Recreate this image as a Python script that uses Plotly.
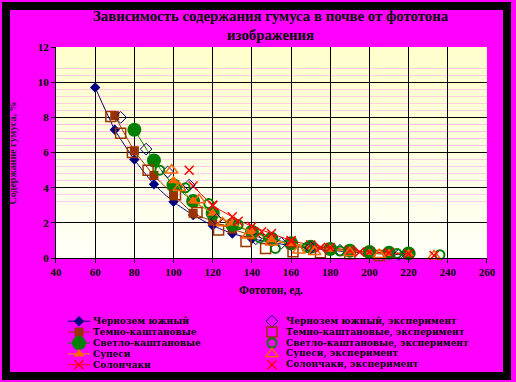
import plotly.graph_objects as go

# ---------------- data ----------------
x_ticks = [40, 60, 80, 100, 120, 140, 160, 180, 200, 220, 240, 260]
y_ticks = [0, 2, 4, 6, 8, 10, 12]

chern_x = [60, 70, 80, 90, 100, 110, 120, 130, 140, 150, 160, 170, 180, 190, 200, 210, 220]
chern_y = [9.7, 7.3, 5.6, 4.2, 3.2, 2.45, 1.85, 1.4, 1.1, 0.9, 0.7, 0.55, 0.45, 0.35, 0.28, 0.22, 0.18]

dark_x = [70, 80, 90, 100, 110, 120, 130, 140, 150, 160, 170, 180, 190, 200, 210, 220]
dark_y = [8.1, 6.1, 4.7, 3.6, 2.55, 2.1, 1.65, 1.3, 1.0, 0.8, 0.6, 0.5, 0.4, 0.3, 0.25, 0.2]

light_x = [80, 90, 100, 110, 120, 130, 140, 150, 160, 170, 180, 190, 200, 210, 220]
light_y = [7.3, 5.55, 4.15, 3.25, 2.55, 1.9, 1.5, 1.1, 0.85, 0.65, 0.52, 0.42, 0.35, 0.3, 0.27]

sup_x = [100, 110, 120, 130, 140, 150, 160, 170, 180, 190, 200, 210, 220]
sup_y = [4.4, 3.25, 2.55, 2.0, 1.5, 1.05, 0.83, 0.64, 0.5, 0.4, 0.32, 0.27, 0.25]

sol_x = [110, 120, 130, 140, 150, 160, 170, 180, 190, 200, 210, 220]
sol_y = [4.1, 3.0, 2.35, 1.8, 1.4, 1.0, 0.75, 0.6, 0.45, 0.35, 0.3, 0.25]

chern_e_x = [73, 86, 97, 108, 122, 142, 155, 170, 185, 200, 215]
chern_e_y = [8.0, 6.2, 4.9, 4.15, 2.2, 1.1, 0.85, 0.6, 0.45, 0.3, 0.2]

dark_e_x = [68, 73, 79, 87, 101, 112, 123, 137, 147, 161, 175, 190, 205]
dark_e_y = [8.05, 7.1, 6.0, 5.0, 3.6, 2.6, 1.6, 0.95, 0.55, 0.36, 0.3, 0.25, 0.15]

light_e_x = [93, 106, 118, 133, 144, 152, 168, 185, 200, 214, 236]
light_e_y = [5.0, 4.0, 3.1, 1.9, 1.15, 0.55, 0.6, 0.4, 0.3, 0.27, 0.2]

sup_e_x = [99, 103, 113, 125, 138, 150, 164, 172, 190, 205, 233]
sup_e_y = [5.0, 4.0, 3.3, 2.0, 1.3, 0.9, 0.45, 0.36, 0.3, 0.2, 0.12]

sol_e_x = [108, 120, 133, 145, 160, 175, 195, 233]
sol_e_y = [5.0, 3.0, 2.1, 1.5, 0.95, 0.6, 0.35, 0.15]

names = ["Чернозем южный", "Темно-каштановые", "Светло-каштановые", "Супеси", "Солончаки"]
exp_names = [n + ", эксперимент" for n in names]

title_lines = ["Зависимость содержания гумуса в почве от фототона", "изображения"]
x_title = "Фототон, ед."
y_title = "Содержание гумуса, %"

# ---------------- layout geometry ----------------
W, H = 516, 382
# target positions (picture pixels) and compensation for the photo framing
OFF, SX, SY = 6.0, 0.971, 0.968


def fx(s):
    return ((s - OFF) / SX) / W


def fy(s):
    return 1 - ((s - OFF) / SY) / H


def px_x(s):
    return (s - OFF) / SX


def px_y(s):
    return (s - OFF) / SY


PL, PR, PT, PB = 56, 487, 47, 258
FONT = "Liberation Serif"
LEG_FONT = "DejaVu Serif"

colors = ["#000080", "#993300", "#008000", "#FF6600", "#FF0000"]
line_colors = ["#000080", "#993300", "#008000", "#FF9900", "#FF0000"]
symbols = ["diamond", "square", "circle", "triangle-up", "x-thin"]
sizes = [8, 9, 14, 10, 9]
exp_symbols = ["diamond-open", "square-open", "circle-open", "triangle-up-open", "x-thin"]
exp_sizes = [9, 10, 9, 11, 9]
exp_widths = [1, 1.5, 2, 1.5, 1.5]

series = [(chern_x, chern_y), (dark_x, dark_y), (light_x, light_y), (sup_x, sup_y), (sol_x, sol_y)]
exp_series = [(chern_e_x, chern_e_y), (dark_e_x, dark_e_y), (light_e_x, light_e_y),
              (sup_e_x, sup_e_y), (sol_e_x, sol_e_y)]

fig = go.Figure()

for i, (xs, ys) in enumerate(series):
    mline = dict(color=colors[i], width=1.5 if symbols[i] == "x-thin" else 0)
    fig.add_trace(go.Scatter(
        x=xs, y=ys, mode="lines+markers", name=names[i], cliponaxis=False,
        line=dict(color=line_colors[i], width=1, shape="spline", smoothing=0.5),
        marker=dict(symbol=symbols[i], size=sizes[i], color=colors[i], line=mline),
        xaxis="x", yaxis="y"))

for i, (xs, ys) in enumerate(exp_series):
    fig.add_trace(go.Scatter(
        x=xs, y=ys, mode="markers", name=exp_names[i], cliponaxis=False,
        marker=dict(symbol=exp_symbols[i], size=exp_sizes[i], color=colors[i],
                    line=dict(color=colors[i], width=exp_widths[i])),
        xaxis="x", yaxis="y"))

# ---------------- custom compact legend (pixel-space helper axes) ----------------
row_y0, row_dy = 321, 10.9
annotations = []
leg_font = dict(family=LEG_FONT, size=9, color="black", weight="bold")
for i in range(len(names)):
    ry = row_y0 + i * row_dy
    fig.add_trace(go.Scatter(x=[px_x(68), px_x(90)], y=[px_y(ry)] * 2, mode="lines", showlegend=False,
                             line=dict(color=line_colors[i], width=1), xaxis="x2", yaxis="y2",
                             hoverinfo="skip"))
    fig.add_trace(go.Scatter(x=[px_x(79)], y=[px_y(ry)], mode="markers", showlegend=False,
                             marker=dict(symbol=symbols[i], size=sizes[i], color=colors[i],
                                         line=dict(color=colors[i],
                                                   width=1.5 if symbols[i] == "x-thin" else 0)),
                             xaxis="x2", yaxis="y2", hoverinfo="skip"))
    fig.add_trace(go.Scatter(x=[px_x(272)], y=[px_y(ry)], mode="markers", showlegend=False,
                             marker=dict(symbol=exp_symbols[i], size=exp_sizes[i], color=colors[i],
                                         line=dict(color=colors[i], width=exp_widths[i])),
                             xaxis="x2", yaxis="y2", hoverinfo="skip"))
    annotations.append(dict(text=names[i], x=fx(92), y=fy(ry), xref="paper", yref="paper",
                            xanchor="left", yanchor="middle", showarrow=False, borderpad=0,
                            font=leg_font))
    annotations.append(dict(text=exp_names[i], x=fx(285), y=fy(ry), xref="paper", yref="paper",
                            xanchor="left", yanchor="middle", showarrow=False, borderpad=0,
                            font=leg_font))

# title
annotations.append(dict(text=title_lines[0] + "<br>" + title_lines[1], x=fx((PL + PR) / 2), y=fy(25),
                        xref="paper", yref="paper", xanchor="center", yanchor="middle", showarrow=False,
                        font=dict(family=FONT, size=14.8, color="black", weight="bold")))
# axis titles
annotations.append(dict(text=x_title, x=fx((PL + PR) / 2), y=fy(290), xref="paper", yref="paper",
                        xanchor="center", yanchor="middle", showarrow=False,
                        font=dict(family=FONT, size=11.5, color="black", weight="bold")))
annotations.append(dict(text=y_title, x=fx(13), y=fy((PT + PB) / 2), xref="paper", yref="paper",
                        xanchor="center", yanchor="middle", showarrow=False, textangle=-90,
                        font=dict(family=FONT, size=10, color="#222222", weight="bold")))

# ---------------- background: pale-yellow gradient in the plot area, black frame ----------------
shapes = []
nb = 30
for k in range(nb):
    t = k / (nb - 1)
    b = int(round(204 + (246 - 204) * t))
    y1p = PT + (PB - PT) * k / nb
    y2p = PT + (PB - PT) * (k + 1) / nb
    shapes.append(dict(type="rect", xref="paper", yref="paper", x0=fx(PL), x1=fx(PR),
                       y0=fy(y2p), y1=fy(y1p), fillcolor=f"rgb(255,255,{b})",
                       line=dict(width=0), layer="below"))
shapes.append(dict(type="rect", xref="paper", yref="paper", x0=0, x1=1, y0=0, y1=1,
                   line=dict(color="black", width=8), fillcolor="rgba(0,0,0,0)", layer="below"))

axis_font = dict(family=FONT, size=11, color="black", weight="bold")
fig.update_layout(
    width=W, height=H, margin=dict(l=0, r=0, t=0, b=0),
    paper_bgcolor="#FF00FF", plot_bgcolor="rgba(0,0,0,0)", showlegend=False,
    xaxis=dict(domain=[fx(PL), fx(PR)], range=[40, 260], tickvals=x_ticks, ticks="outside", ticklen=4,
               tickcolor="black", showgrid=True, gridcolor="black", gridwidth=1, showline=True,
               linecolor="black", linewidth=1, zeroline=False, tickfont=axis_font, anchor="y"),
    yaxis=dict(domain=[fy(PB), fy(PT)], range=[0, 12], tickvals=y_ticks, ticks="outside", ticklen=4,
               tickcolor="black", showgrid=True, gridcolor="black", gridwidth=1, showline=True,
               linecolor="black", linewidth=1, zeroline=False, tickfont=axis_font, anchor="x"),
    xaxis2=dict(domain=[0, 1], range=[0, W], visible=False, anchor="y2"),
    yaxis2=dict(domain=[0, 1], range=[H, 0], visible=False, anchor="x2"),
    shapes=shapes, annotations=annotations,
)

fig.write_html("out.html", config={"displayModeBar": False},
               post_script="document.body.style.margin='0';document.body.style.padding='0';"
                           "document.documentElement.style.overflow='hidden';"
                           "document.body.style.overflow='hidden';")
